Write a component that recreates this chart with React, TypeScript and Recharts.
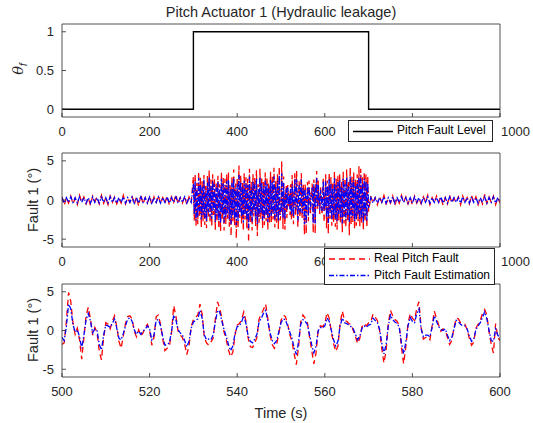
import { LineChart, Line, XAxis, YAxis } from "recharts";

const FONT = "'Liberation Sans', Arial, Helvetica, sans-serif";
const INK = "#262626";

// top panel: fault level step
const levelTime = [0, 300, 300, 700, 700, 1000];
const levelValue = [0, 0, 1, 1, 0, 0];

const fullTimeTicks = [0, 200, 400, 600, 800, 1000];
const zoomTimeTicks = [500, 520, 540, 560, 580, 600];
const levelTicks = [0, 0.5, 1];
const faultTicks = [-5, 0, 5];

// middle panel, quiet part before the fault (t = 0..295, every 5 s)
const quietBeforeReal = [
  0.4, -0.7, 0.3, -0.4, 0.5, -0.5, 0.2, -0.6, 0.6, -0.3,
  0.4, -0.5, 0.3, -0.7, 0.5, -0.2, 0.4, -0.5, 0.6, -0.4,
  0.3, -0.6, 0.5, -0.3, 0.4, -0.5, 0.2, -0.4, 0.6, -0.5,
  0.3, -0.3, 0.5, -0.6, 0.4, -0.8, 0.7, -0.5, 0.3, -0.4,
  0.5, -0.6, 0.4, -0.3, 0.6, -0.5, 0.3, -0.4, 0.5, -0.6,
  0.4, -0.3, 0.7, -0.5, 0.3, -0.4, 0.5, -0.6, 0.4, -0.3,
];
const quietBeforeEst = [
  0.3, -0.4, 0.3, -0.3, 0.4, -0.3, 0.3, -0.4, 0.4, -0.3,
  0.3, -0.4, 0.3, -0.4, 0.4, -0.3, 0.3, -0.4, 0.4, -0.3,
  0.3, -0.4, 0.4, -0.3, 0.3, -0.4, 0.3, -0.3, 0.4, -0.4,
  0.3, -0.3, 0.4, -0.4, 0.3, -0.4, 0.4, -0.3, 0.3, -0.4,
  0.4, -0.4, 0.3, -0.3, 0.4, -0.4, 0.3, -0.3, 0.4, -0.4,
  0.3, -0.3, 0.4, -0.4, 0.3, -0.3, 0.4, -0.4, 0.3, -0.3,
];

// fault active, t = 300..498 every 2 s
const burstEarlyReal = [
  3.0, -2.6, 3.4, -3.3, 2.2, -3.1, 3.6, -2.0, 2.9, -3.5,
  2.4, -2.7, 3.2, -3.2, 1.8, -3.6, 3.1, -2.3, 3.8, -2.9,
  2.6, -3.4, 3.3, -1.9, 2.8, -3.8, 2.3, -2.8, 3.1, -3.7,
  2.0, -4.0, 3.6, -2.5, 2.9, -3.9, 2.7, -3.1, 3.3, -2.4,
  3.5, -3.4, 1.9, -4.6, 3.0, -2.7, 3.9, -3.3, 2.1, -4.9,
  2.8, -3.7, 4.4, -2.3, 3.2, -3.0, 2.4, -4.0, 3.4, -2.5,
  2.9, -3.6, 2.7, -5.4, 4.0, -2.8, 2.3, -3.9, 3.3, -2.1,
  2.8, -3.4, 3.8, -4.6, 2.0, -2.9, 4.0, -2.4, 3.0, -3.6,
  2.5, -3.2, 3.5, -2.7, 2.9, -3.8, 2.2, -3.1, 3.6, -2.8,
  3.2, -2.5, 4.1, -3.5, 2.4, -2.9, 3.3, -3.7, 4.3, -2.6,
];
const burstEarlyEst = [
  2.1, -1.8, 2.4, -2.6, 1.5, -2.2, 2.8, -1.4, 2.0, -2.5,
  1.7, -1.9, 2.6, -2.3, 1.2, -2.7, 2.2, -1.6, 2.9, -2.1,
  1.8, -2.4, 2.5, -1.3, 2.0, -2.8, 1.6, -2.0, 2.3, -2.6,
  1.4, -3.0, 2.7, -1.8, 2.1, -2.9, 1.9, -2.2, 2.4, -1.7,
  2.6, -2.5, 1.3, -3.1, 2.2, -1.9, 2.8, -2.4, 1.5, -3.2,
  2.0, -2.7, 3.2, -1.6, 2.3, -2.2, 1.7, -2.9, 2.5, -1.8,
  2.1, -2.6, 1.9, -3.6, 3.0, -2.0, 1.6, -2.8, 2.4, -1.5,
  2.0, -2.4, 2.7, -3.1, 1.4, -2.1, 2.9, -1.7, 2.2, -2.6,
  1.8, -2.3, 2.5, -1.9, 2.1, -2.8, 1.6, -2.2, 2.6, -2.0,
  2.3, -1.8, 3.0, -2.5, 1.7, -2.1, 2.4, -2.7, 3.2, -1.9,
];

// bottom panel window, t = 500..600 every 0.5 s (also used in the middle panel)
const zoomReal = [
  -1.8, -1.6, 1.2, 4.9, 3.8, 1.0, -0.5, 0.3, -1.2, -3.7, -0.9, 1.9, 3.0, 1.5, -0.6, 0.4, -0.3, -2.6, -3.8, -1.0,
  1.0, 0.8, 0.2, 1.2, 1.9, 0.5, -1.4, -2.3, -0.7, 0.9, 1.8, 1.9, 1.5, -0.1, -0.8, 0.1, -0.7, -0.3, 0.4, 0.8,
  0.1, -1.9, -0.9, 1.8, 2.0, 0.8, -1.1, -2.6, -2.3, -2.1, -0.3, 3.2, 1.9, -0.1, -0.6, -0.9, -1.8, -3.1, -2.0, 0.5,
  1.4, 1.7, 2.0, 3.4, 2.1, -0.9, -1.6, -1.9, -1.5, -1.0, 1.4, 3.7, 2.9, 1.6, -0.2, -1.2, -2.5, -3.4, -2.8, -0.6,
  0.7, 0.9, 1.4, 2.4, 1.2, -1.0, -2.1, -2.2, -1.6, -0.9, 1.5, 2.1, 2.7, 3.4, 1.5, -0.6, -1.8, -2.3, -1.8, -0.4,
  1.3, 2.0, 1.8, 0.9, -0.5, -1.4, -3.0, -4.4, -2.2, 1.1, 2.0, 1.6, 1.1, -0.8, -2.5, -4.3, -2.9, 0.2, 0.6, 0.5,
  0.9, 2.3, 1.6, -0.2, -1.7, -2.7, -2.0, 0.9, 2.5, 1.3, 1.2, 0.9, 0.8, 0.0, -0.8, -1.7, -1.0, 0.5, 0.9, 0.6,
  1.0, 1.1, 2.1, 1.7, 1.3, 0.0, -2.3, -4.2, -2.6, 0.9, 2.6, 1.9, 1.4, 1.2, 0.6, -2.2, -4.3, -2.1, 0.9, 2.2,
  1.6, 1.3, 2.9, 3.7, 0.4, -1.1, -0.9, -0.8, -1.2, 0.6, 2.5, 1.6, 0.7, -0.1, 0.2, 0.0, -0.9, -1.8, -1.3, 0.4,
  1.6, 1.5, 1.0, 0.9, 0.8, 0.1, -1.0, -1.9, -1.5, 0.3, 0.8, 1.3, 2.2, 2.7, 2.0, -0.2, -1.8, -2.9, 0.9, -0.9,
  -1.3,
];
const zoomEst = [
  -0.9, -1.3, 0.5, 3.4, 2.8, 0.8, -0.2, 0.1, -0.8, -2.3, -0.6, 1.4, 2.2, 1.2, -0.3, 0.2, 0.0, -1.8, -2.5, -0.6,
  0.7, 0.6, 0.4, 0.9, 1.5, 0.3, -1.0, -1.2, -0.4, 0.6, 1.5, 1.6, 1.2, 0.1, -0.5, -0.1, -0.5, -0.1, 0.2, 0.6,
  0.2, -1.2, -0.6, 1.3, 1.4, 0.6, -0.8, -1.9, -1.8, -1.6, -0.2, 2.0, 1.4, 0.1, -0.3, -0.6, -1.3, -2.1, -1.4, 0.3,
  1.1, 1.3, 1.5, 2.6, 1.6, -0.6, -1.2, -1.1, -1.2, -0.6, 1.0, 2.6, 2.4, 1.2, 0.1, -0.8, -1.8, -2.6, -2.0, -0.4,
  0.5, 0.6, 1.1, 1.9, 0.9, -0.7, -1.4, -1.6, -1.1, -0.5, 1.1, 1.6, 2.2, 2.6, 1.2, -0.3, -1.3, -1.7, -1.3, -0.2,
  1.0, 1.5, 1.4, 0.6, -0.2, -1.0, -2.2, -3.1, -1.5, 0.8, 1.4, 1.2, 0.8, -0.5, -1.8, -2.9, -2.0, 0.0, 0.4, 0.3,
  0.6, 1.6, 1.2, 0.0, -1.2, -2.0, -1.4, 0.6, 1.6, 1.0, 0.9, 0.7, 0.5, 0.2, -0.5, -1.2, -0.7, 0.3, 0.6, 0.4,
  0.7, 0.8, 1.6, 1.3, 1.0, 0.2, -1.6, -3.0, -1.8, 0.6, 2.0, 1.4, 1.1, 0.9, 0.4, -1.6, -3.0, -1.5, 0.6, 1.7,
  1.2, 1.0, 2.2, 2.8, 0.2, -0.8, -0.6, -0.6, -0.8, 0.4, 1.9, 1.2, 0.5, 0.1, 0.0, 0.2, -0.6, -1.3, -0.9, 0.2,
  1.3, 1.1, 0.8, 0.6, 0.6, 0.2, -0.7, -1.4, -1.1, 0.1, 0.6, 1.0, 1.7, 2.4, 1.5, 0.0, -1.3, -1.4, 0.2, -0.6,
  -1.0,
];

// fault active, t = 602..700 every 2 s
const burstLateReal = [
  3.3, -3.6, 2.5, -4.3, 3.5, -2.4, 2.9, -3.3, 2.2, -2.8,
  3.7, -3.4, 2.7, -3.8, 3.1, -2.6, 3.4, -3.1, 2.3, -4.1,
  3.6, -3.0, 2.8, -3.5, 3.9, -2.7, 2.4, -4.5, 4.2, -3.2,
  3.0, -2.8, 3.5, -3.7, 2.6, -3.3, 3.3, -2.7, 4.3, -3.4,
  4.0, -3.0, 2.9, -3.9, 3.6, -2.8, 3.3, -3.5, 3.0, -1.5,
];
const burstLateEst = [
  2.4, -2.2, 1.8, -2.9, 2.6, -1.7, 2.1, -2.5, 1.5, -2.0,
  2.8, -2.4, 1.9, -2.7, 2.3, -1.8, 2.5, -2.2, 1.6, -3.0,
  2.7, -2.1, 2.0, -2.6, 2.9, -1.9, 1.7, -2.8, 3.0, -2.3,
  2.2, -2.0, 2.6, -2.7, 1.8, -2.4, 2.4, -1.9, 2.9, -2.5,
  3.1, -2.2, 2.1, -2.9, 2.7, -2.0, 2.4, -2.6, 2.2, -1.0,
];

// quiet again, t = 705..1000 every 5 s
const quietAfterReal = [
  0.5, -0.4, 0.3, -0.6, 0.4, -0.3, 0.6, -0.5, 0.2, -0.4,
  0.5, -0.7, 0.3, -0.4, 0.6, -0.3, 0.4, -0.5, 0.3, -0.6,
  0.5, -0.4, 0.2, -0.5, 0.4, -0.3, 0.6, -0.6, 0.3, -0.4,
  0.5, -0.3, 0.4, -0.7, 0.3, -0.5, 0.6, -0.4, 0.2, -0.3,
  0.4, -0.6, 0.5, -0.4, 0.3, -0.5, 0.6, -0.3, 0.4, -0.6,
  0.3, -0.5, 0.7, -0.4, 0.4, -0.3, 0.5, -0.6, 0.3, -0.4,
];
const quietAfterEst = [
  0.3, -0.4, 0.3, -0.4, 0.3, -0.3, 0.4, -0.4, 0.3, -0.3,
  0.4, -0.4, 0.3, -0.3, 0.4, -0.3, 0.3, -0.4, 0.3, -0.4,
  0.4, -0.3, 0.3, -0.4, 0.3, -0.3, 0.4, -0.4, 0.3, -0.3,
  0.3, -0.3, 0.4, -0.4, 0.3, -0.4, 0.4, -0.3, 0.3, -0.3,
  0.3, -0.4, 0.4, -0.3, 0.3, -0.4, 0.4, -0.3, 0.3, -0.4,
  0.3, -0.3, 0.4, -0.4, 0.3, -0.3, 0.4, -0.4, 0.3, -0.3,
];

function segment(start: number, step: number, real: number[], est: number[]) {
  return real.map((r, i) => ({ t: start + i * step, real: r, est: est[i] }));
}

const levelRows = levelTime.map((t, i) => ({ t, level: levelValue[i] }));
const zoomRows = segment(500, 0.5, zoomReal, zoomEst);
const faultRows = [
  ...segment(0, 5, quietBeforeReal, quietBeforeEst),
  ...segment(300, 2, burstEarlyReal, burstEarlyEst),
  ...zoomRows,
  ...segment(602, 2, burstLateReal, burstLateEst),
  ...segment(705, 5, quietAfterReal, quietAfterEst),
];

const tickStyle = { fill: INK, fontSize: 13, fontFamily: FONT };
const lineStyle = { stroke: INK, strokeWidth: 0.8 };

// in the full-length panels the 800 label sits under the legend box and the
// 1000 label sits just right of its tick, as in the source figure
function TimeTick({ x, y, payload, full }: any) {
  if (full && payload.value === 800) return <g />;
  const last = full && payload.value === 1000;
  return (
    <text x={last ? x + 1 : x} y={y} dy={10} textAnchor={last ? "start" : "middle"} fill={INK} fontSize={13} fontFamily={FONT}>
      {payload.value}
    </text>
  );
}

// MATLAB-like box: labelled bottom/left axes, bare top/right axes, inward ticks
function frame(xDomain: number[], xTicks: number[], yDomain: number[], yTicks: number[]) {
  const full = xDomain[1] === 1000;
  return [
    <XAxis key="xb" xAxisId="b" type="number" dataKey="t" domain={xDomain} ticks={xTicks} allowDataOverflow
      interval={0} height={24} tickSize={-4} tickMargin={13} axisLine={lineStyle} tickLine={lineStyle}
      tick={(p: any) => <TimeTick {...p} full={full} />} />,
    <XAxis key="xt" xAxisId="t" orientation="top" type="number" dataKey="t" domain={xDomain} ticks={xTicks} allowDataOverflow
      interval={0} height={1} tickSize={-4} axisLine={lineStyle} tickLine={lineStyle} tick={false} />,
    <YAxis key="yl" yAxisId="l" type="number" domain={yDomain} ticks={yTicks} allowDataOverflow
      interval={0} width={40} tickSize={-4} tickMargin={12} axisLine={lineStyle} tickLine={lineStyle} tick={tickStyle} />,
    <YAxis key="yr" yAxisId="r" orientation="right" type="number" domain={yDomain} ticks={yTicks} allowDataOverflow
      interval={0} width={1} tickSize={-4} axisLine={lineStyle} tickLine={lineStyle} tick={false} />,
  ];
}

const W = 533;
const H = 423;

function Panel({ top, bottom, data, xDomain, xTicks, yDomain, yTicks, children }: any) {
  return (
    <div style={{ position: "absolute", left: 0, top: 0 }}>
      <LineChart width={W} height={H} data={data} margin={{ top: top - 1, right: 32, left: 22, bottom: H - bottom - 24 }}>
        {frame(xDomain, xTicks, yDomain, yTicks)}
        {children}
      </LineChart>
    </div>
  );
}

const faultLines = [
  <Line key="real" xAxisId="b" yAxisId="l" dataKey="real" type="linear" stroke="#ff0000" strokeWidth={1.3}
    strokeDasharray="6 4" dot={false} isAnimationActive={false} />,
  <Line key="est" xAxisId="b" yAxisId="l" dataKey="est" type="linear" stroke="#0000ff" strokeWidth={1.3}
    strokeDasharray="5 2 1.5 2" dot={false} isAnimationActive={false} />,
];

function Rotated({ x, y, children }: any) {
  return (
    <div style={{ position: "absolute", left: x, top: y, transform: "translate(-50%, -50%) rotate(-90deg)", whiteSpace: "nowrap", fontSize: 14.6, color: INK }}>
      {children}
    </div>
  );
}

export default function App() {
  return (
    <div style={{ position: "absolute", left: 0, top: 0, width: W, height: H, background: "#fff", fontFamily: FONT, overflow: "hidden" }}>
      <Panel top={24} bottom={117} data={levelRows} xDomain={[0, 1000]} xTicks={fullTimeTicks} yDomain={[-0.1, 1.1]} yTicks={levelTicks}>
        <Line xAxisId="b" yAxisId="l" dataKey="level" type="linear" stroke="#000" strokeWidth={1.4} dot={false} isAnimationActive={false} />
      </Panel>
      <Panel top={153} bottom={247} data={faultRows} xDomain={[0, 1000]} xTicks={fullTimeTicks} yDomain={[-6, 6]} yTicks={faultTicks}>
        {faultLines}
      </Panel>
      <Panel top={284} bottom={377} data={zoomRows} xDomain={[500, 600]} xTicks={zoomTimeTicks} yDomain={[-6, 6]} yTicks={faultTicks}>
        {faultLines}
      </Panel>

      <div style={{ position: "absolute", left: 281, top: 12, transform: "translate(-50%, -50%)", whiteSpace: "nowrap", fontSize: 14.5, color: INK }}>
        Pitch Actuator 1 (Hydraulic leakage)
      </div>
      <Rotated x={19} y={69}>
        <span style={{ fontStyle: "italic", fontFamily: "'DejaVu Serif', serif" }}>θ</span>
        <sub style={{ fontSize: 10, fontStyle: "italic" }}>f</sub>
      </Rotated>
      <Rotated x={33} y={200}>Fault 1 (°)</Rotated>
      <Rotated x={33} y={330}>Fault 1 (°)</Rotated>
      <div style={{ position: "absolute", left: 281, top: 413, transform: "translate(-50%, -50%)", whiteSpace: "nowrap", fontSize: 14.6, color: INK }}>
        Time (s)
      </div>

      <div style={{ position: "absolute", left: 348, top: 120, width: 143, height: 20, background: "#fff", border: `1px solid ${INK}`, fontSize: 12, color: "#000" }}>
        <svg width={44} height={20} style={{ position: "absolute", left: 0, top: 0 }}>
          <line x1={4} x2={44} y1={10.5} y2={10.5} stroke="#000" strokeWidth={1.4} />
        </svg>
        <span style={{ position: "absolute", left: 48, top: 2, whiteSpace: "nowrap" }}>Pitch Fault Level</span>
      </div>

      <div style={{ position: "absolute", left: 324, top: 248, width: 169, height: 35, background: "#fff", border: `1px solid ${INK}`, fontSize: 12, color: "#000" }}>
        <svg width={48} height={35} style={{ position: "absolute", left: 0, top: 0 }}>
          <line x1={4} x2={45} y1={10} y2={10} stroke="#ff0000" strokeWidth={1.3} strokeDasharray="6 4" />
          <line x1={4} x2={45} y1={26.5} y2={26.5} stroke="#0000ff" strokeWidth={1.3} strokeDasharray="5 2 1.5 2" />
        </svg>
        <span style={{ position: "absolute", left: 49, top: 2, whiteSpace: "nowrap" }}>Real Pitch Fault</span>
        <span style={{ position: "absolute", left: 49, top: 19, whiteSpace: "nowrap" }}>Pitch Fault Estimation</span>
      </div>
    </div>
  );
}
